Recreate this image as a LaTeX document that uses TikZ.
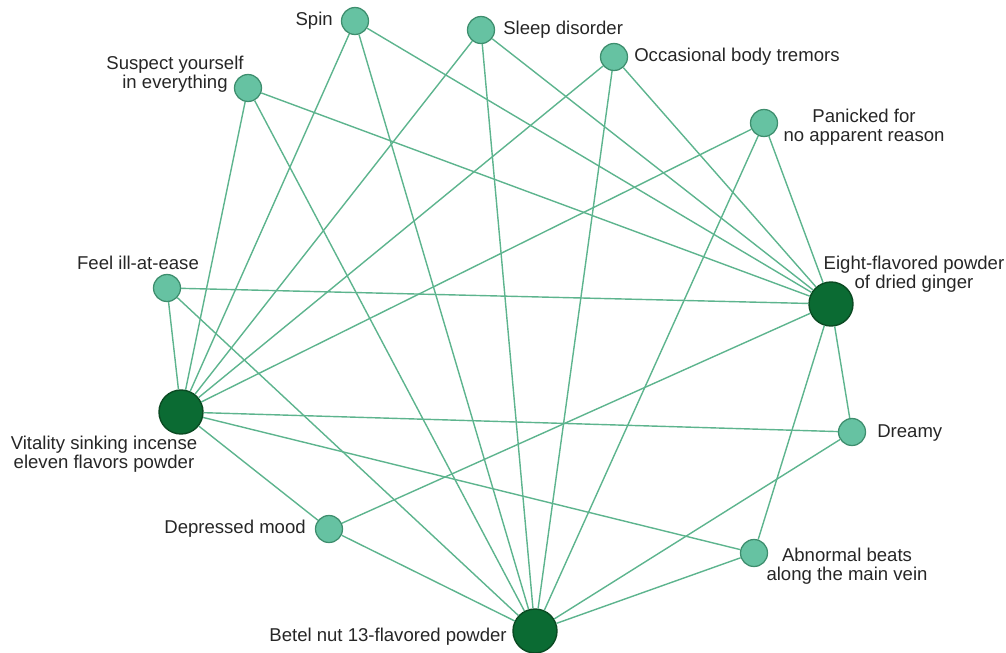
\documentclass[tikz,border=0pt]{standalone}
\usepackage{fontspec}
\setmainfont{Liberation Sans}
\definecolor{edgegreen}{HTML}{5DB48E}
\definecolor{lightfill}{HTML}{66C2A2}
\definecolor{lightdraw}{HTML}{3E8E6E}
\definecolor{darkfill}{HTML}{0B6B33}
\definecolor{darkdraw}{HTML}{0A4A22}
\definecolor{labeltext}{HTML}{262626}
\tikzset{
  symptom/.style={circle, draw=lightdraw, fill=lightfill, line width=0.9pt, minimum size=0.675cm, inner sep=0pt},
  formula/.style={circle, draw=darkdraw, fill=darkfill, line width=1pt, minimum size=1.1cm, inner sep=0pt},
  tag/.style={text=labeltext, inner sep=0pt, font=\fontsize{13.2}{13.2}\selectfont},
  link/.style={draw=edgegreen, line width=1pt}
}
\begin{document}
\begin{tikzpicture}[x=0.025cm, y=-0.025cm]
\useasboundingbox (0,0) rectangle (1006,652);

% symptoms
\node[symptom] (spin)      at(355, 21) {};
\node[symptom] (sleep)     at(481, 30) {};
\node[symptom] (tremor)    at(614, 57) {};
\node[symptom] (suspect)   at(248, 88) {};
\node[symptom] (panic)     at(764,123) {};
\node[symptom] (illease)   at(167,288) {};
\node[symptom] (dreamy)    at(852,432) {};
\node[symptom] (depressed) at(329,529) {};
\node[symptom] (abnormal)  at(754,553) {};

% formulas
\node[formula] (ginger)   at(831,304) {};
\node[formula] (vitality) at(181,412) {};
\node[formula] (betel)    at(535,631) {};

% labels
\node[tag, anchor=east] (spin-t)    at(333, 21) {Spin};
\node[tag, anchor=west] (sleep-t)   at(503, 30) {Sleep disorder};
\node[tag, anchor=west] (tremor-t)  at(634, 57) {Occasional body tremors};
\node[tag, align=center] (suspect-t) at(175, 74) {Suspect yourself\\in everything};
\node[tag, align=center] (panic-t)   at(864,127) {Panicked for\\no apparent reason};
\node[tag] (illease-t)              at(138,263) {Feel ill-at-ease};
\node[tag, align=center] (ginger-t)  at(914,274) {Eight-flavored powder\\of dried ginger};
\node[tag, align=center] (vitality-t) at(104,454) {Vitality sinking incense\\eleven flavors powder};
\node[tag, anchor=west] (dreamy-t)  at(877,433) {Dreamy};
\node[tag, anchor=east] (depressed-t) at(306,529) {Depressed mood};
\node[tag, align=center] (abnormal-t) at(847,566) {Abnormal beats\\along the main vein};
\node[tag, anchor=east] (betel-t)   at(507,637) {Betel nut 13-flavored powder};

% vitality sinking incense
\draw[link] (vitality) -- (illease);
\draw[link] (vitality) -- (suspect);
\draw[link] (vitality) -- (spin);
\draw[link] (vitality) -- (sleep);
\draw[link] (vitality) -- (tremor);
\draw[link] (vitality) -- (panic);
\draw[link] (vitality) -- (dreamy);
\draw[link] (vitality) -- (depressed);
\draw[link] (vitality) -- (abnormal);

% dried ginger
\draw[link] (ginger) -- (illease);
\draw[link] (ginger) -- (suspect);
\draw[link] (ginger) -- (spin);
\draw[link] (ginger) -- (sleep);
\draw[link] (ginger) -- (tremor);
\draw[link] (ginger) -- (panic);
\draw[link] (ginger) -- (dreamy);
\draw[link] (ginger) -- (depressed);
\draw[link] (ginger) -- (abnormal);

% betel nut
\draw[link] (betel) -- (illease);
\draw[link] (betel) -- (suspect);
\draw[link] (betel) -- (spin);
\draw[link] (betel) -- (sleep);
\draw[link] (betel) -- (tremor);
\draw[link] (betel) -- (panic);
\draw[link] (betel) -- (dreamy);
\draw[link] (betel) -- (depressed);
\draw[link] (betel) -- (abnormal);

\end{tikzpicture}
\end{document}
